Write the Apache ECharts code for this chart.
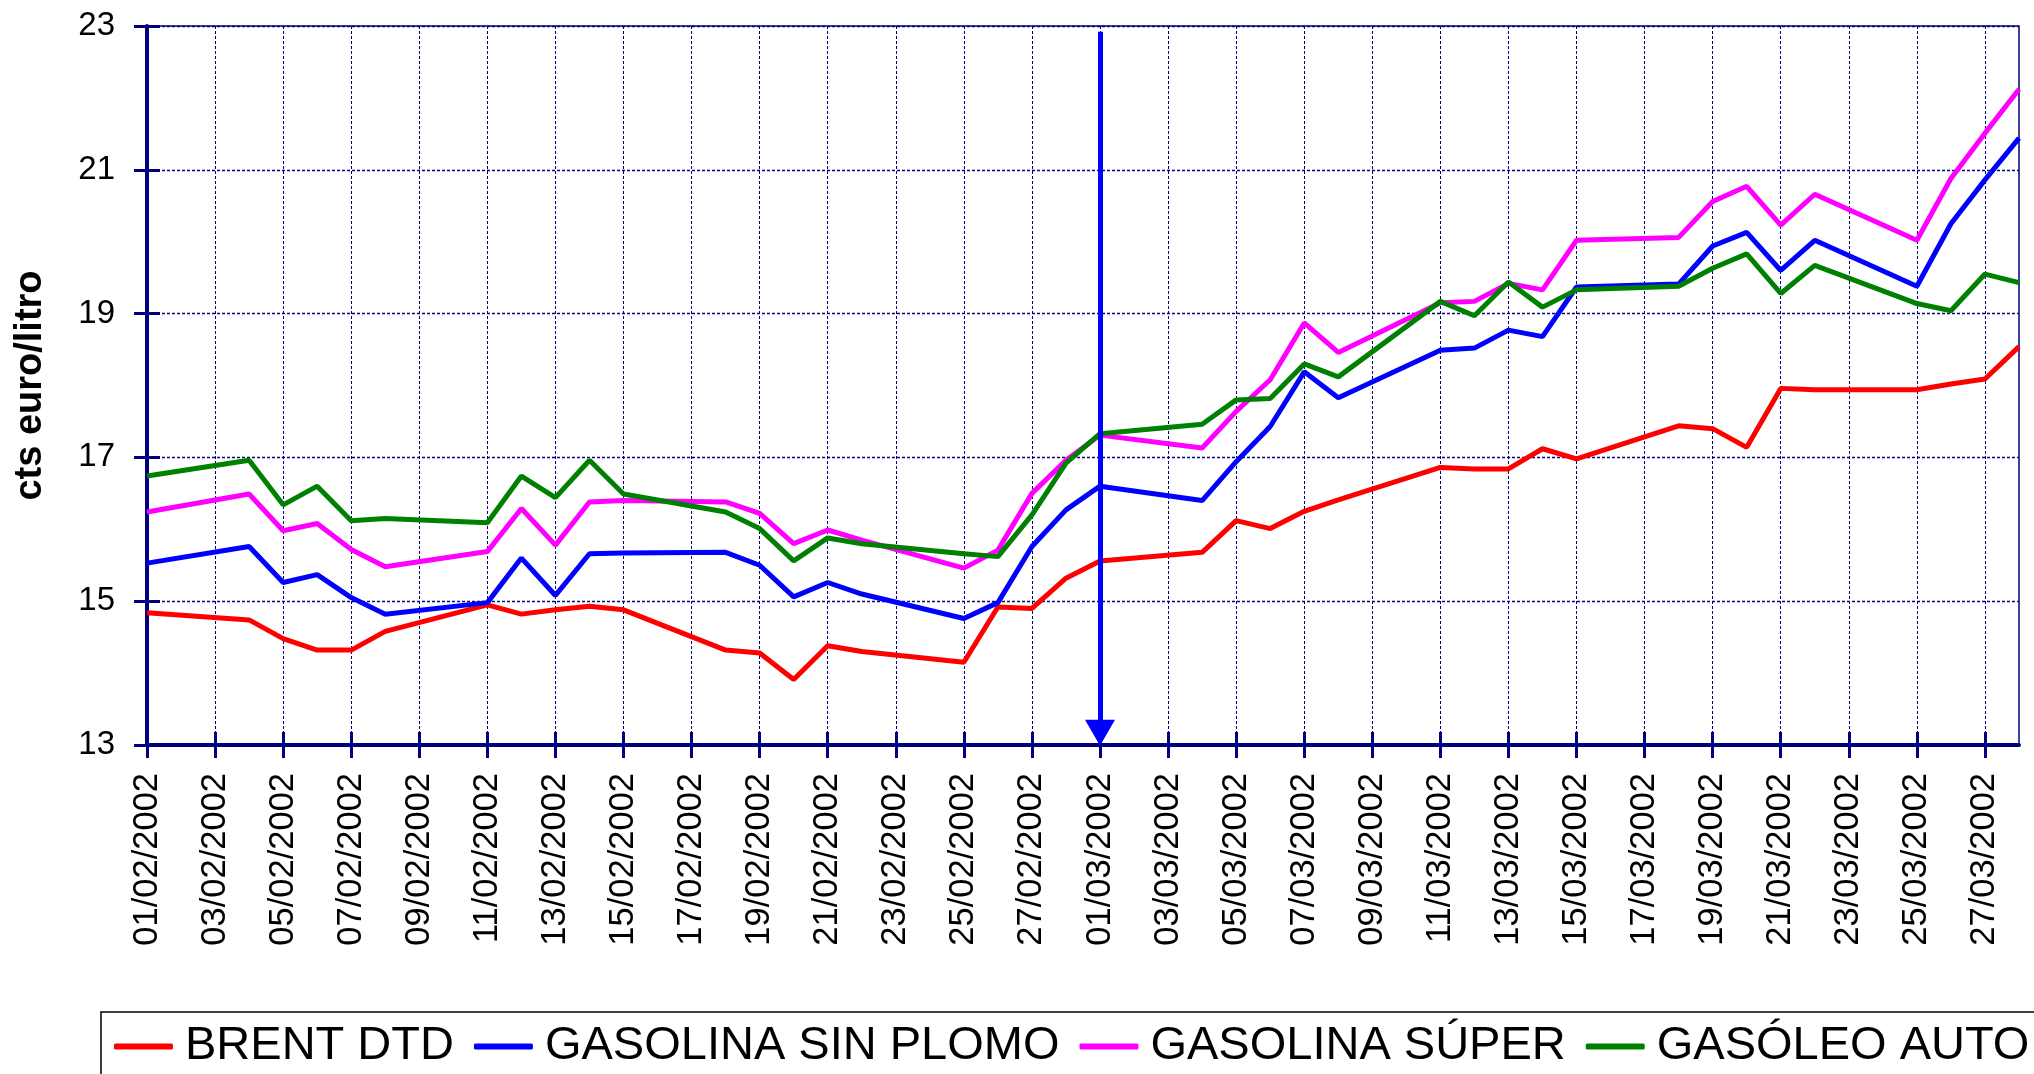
<!DOCTYPE html>
<html>
<head>
<meta charset="utf-8">
<title>Brent y carburantes</title>
<script src="https://cdn.jsdelivr.net/npm/echarts@6/dist/echarts.min.js"></script>
<style>
  html, body { margin: 0; padding: 0; background: #ffffff; }
  #chart { width: 2034px; height: 1074px; }
</style>
</head>
<body>
<div id="chart"></div>
<script>
// dias naturales del eje (01/02/2002 - 28/03/2002)
const dias = [
  '01/02/2002', '02/02/2002', '03/02/2002', '04/02/2002', '05/02/2002', '06/02/2002', '07/02/2002',
  '08/02/2002', '09/02/2002', '10/02/2002', '11/02/2002', '12/02/2002', '13/02/2002', '14/02/2002',
  '15/02/2002', '16/02/2002', '17/02/2002', '18/02/2002', '19/02/2002', '20/02/2002', '21/02/2002',
  '22/02/2002', '23/02/2002', '24/02/2002', '25/02/2002', '26/02/2002', '27/02/2002', '28/02/2002',
  '01/03/2002', '02/03/2002', '03/03/2002', '04/03/2002', '05/03/2002', '06/03/2002', '07/03/2002',
  '08/03/2002', '09/03/2002', '10/03/2002', '11/03/2002', '12/03/2002', '13/03/2002', '14/03/2002',
  '15/03/2002', '16/03/2002', '17/03/2002', '18/03/2002', '19/03/2002', '20/03/2002', '21/03/2002',
  '22/03/2002', '23/03/2002', '24/03/2002', '25/03/2002', '26/03/2002', '27/03/2002', '28/03/2002'
]

// cts euro/litro, null = fin de semana (sin cotizacion)
const brentDtd = [
  14.84, null, null, 14.74, 14.48, 14.32, 14.32, 14.58, null, null,
  14.95, 14.82, 14.88, 14.93, 14.88, null, null, 14.32, 14.28, 13.91,
  14.38, 14.30, null, null, 14.15, 14.92, 14.90, 15.32, 15.56, null,
  null, 15.68, 16.12, 16.01, 16.25, 16.41, null, null, 16.86, 16.84,
  16.84, 17.12, 16.98, null, null, 17.44, 17.40, 17.14, 17.96, 17.94,
  null, null, 17.94, 18.02, 18.09, 18.54
]
const sinPlomo = [
  15.53, null, null, 15.76, 15.26, 15.37, 15.05, 14.82, null, null,
  14.98, 15.60, 15.08, 15.66, 15.67, null, null, 15.68, 15.50, 15.06,
  15.26, 15.10, null, null, 14.76, 14.98, 15.76, 16.27, 16.60, null,
  null, 16.40, 16.94, 17.43, 18.19, 17.83, null, null, 18.49, 18.52,
  18.77, 18.68, 19.37, null, null, 19.41, 19.94, 20.13, 19.60, 20.02,
  null, null, 19.38, 20.25, 20.86, 21.44
]
const gasolinaSuper = [
  16.24, null, null, 16.49, 15.98, 16.08, 15.72, 15.48, null, null,
  15.69, 16.29, 15.78, 16.38, 16.40, null, null, 16.38, 16.22, 15.80,
  15.99, 15.85, null, null, 15.46, 15.71, 16.50, 16.96, 17.31, null,
  null, 17.13, 17.64, 18.08, 18.87, 18.46, null, null, 19.15, 19.17,
  19.42, 19.33, 20.02, null, null, 20.06, 20.56, 20.77, 20.23, 20.66,
  null, null, 20.02, 20.88, 21.51, 22.12
]
const gasoleoAuto = [
  16.74, null, null, 16.96, 16.34, 16.60, 16.12, 16.15, null, null,
  16.09, 16.74, 16.44, 16.96, 16.49, null, null, 16.24, 16.01, 15.56,
  15.88, 15.80, null, null, 15.66, 15.62, 16.20, 16.92, 17.33, null,
  null, 17.46, 17.80, 17.82, 18.30, 18.12, null, null, 19.17, 18.97,
  19.44, 19.09, 19.33, null, null, 19.38, 19.63, 19.83, 19.28, 19.67,
  null, null, 19.14, 19.04, 19.55, 19.43
]

const nombres = ['BRENT DTD', 'GASOLINA SIN PLOMO', 'GASOLINA SÚPER', 'GASÓLEO AUTO']
const colores = ['#ff0000', '#0000ff', '#ff00ff', '#008000']

// flecha vertical en el 01/03/2002
const fechaFlecha = '01/03/2002'
const flechaDesde = 22.92
const flechaHasta = 13.17

const navy = '#000080'
const fuente = '"Liberation Sans", Arial, sans-serif'

const chart = echarts.init(document.getElementById('chart'))

// serie de linea comun
const makeLine = (name, data, color) => ({
  name,
  type: 'line',
  data,
  connectNulls: true,
  showSymbol: false,
  symbol: 'none',
  color,
  lineStyle: { color, width: 5 },
  emphasis: { disabled: true }
})

const series = [
  makeLine(nombres[0], brentDtd, colores[0]),
  makeLine(nombres[1], sinPlomo, colores[1]),
  makeLine(nombres[2], gasolinaSuper, colores[2]),
  makeLine(nombres[3], gasoleoAuto, colores[3])
]

series[3].markLine = {
  silent: true,
  animation: false,
  symbol: ['none', 'triangle'],
  symbolSize: [30, 26],
  label: { show: false },
  lineStyle: { color: '#0000ff', width: 5, type: 'solid' },
  data: [[
    { coord: [fechaFlecha, flechaDesde] },
    { coord: [fechaFlecha, flechaHasta] }
  ]]
}

const option = {
  animation: false,
  backgroundColor: '#ffffff',
  textStyle: { fontFamily: fuente },
  grid: {
    left: 147,
    right: 15,
    top: 26,
    bottom: 329,
    show: true,
    borderColor: navy,
    borderWidth: 1.5
  },
  legend: {
    left: 101,
    top: 1012,
    width: 2400,
    orient: 'horizontal',
    selectedMode: false,
    data: nombres,
    icon: 'roundRect',
    itemWidth: 59,
    itemHeight: 6,
    itemGap: 20,
    padding: [11, 80, 20, 13],
    borderColor: '#000000',
    borderWidth: 1.5,
    textStyle: {
      fontFamily: fuente,
      fontSize: 47,
      lineHeight: 46,
      color: '#000000',
      padding: [0, 0, 0, 7]
    }
  },
  xAxis: [
    {
      type: 'category',
      data: dias,
      boundaryGap: false,
      position: 'bottom',
      axisLine: { show: true, onZero: false, lineStyle: { color: navy, width: 4 } },
      axisTick: { show: true, interval: 1, length: 13, lineStyle: { color: navy, width: 3 } },
      axisLabel: {
        interval: 1,
        rotate: 90,
        margin: 28,
        fontFamily: fuente,
        fontSize: 34.5,
        color: '#000000'
      },
      splitLine: {
        show: true,
        interval: 1,
        lineStyle: { color: navy, width: 1, type: [3, 2] }
      }
    },
    {
      // marcas hacia dentro (cruzan el eje)
      type: 'category',
      data: dias,
      boundaryGap: false,
      position: 'bottom',
      axisLine: { show: false },
      axisTick: { show: true, inside: true, interval: 1, length: 13, lineStyle: { color: navy, width: 3 } },
      axisLabel: { show: false },
      splitLine: { show: false }
    }
  ],
  yAxis: [
    {
      type: 'value',
      min: 13,
      max: 23,
      interval: 2,
      position: 'left',
      name: 'cts euro/litro',
      nameLocation: 'middle',
      nameRotate: 90,
      nameGap: 97,
      nameTextStyle: { fontFamily: fuente, fontSize: 38, fontWeight: 'bold', color: '#000000' },
      axisLine: { show: true, onZero: false, lineStyle: { color: navy, width: 4 } },
      axisTick: { show: true, length: 13, lineStyle: { color: navy, width: 3 } },
      axisLabel: { margin: 32, fontFamily: fuente, fontSize: 33, color: '#000000' },
      splitLine: { show: true, lineStyle: { color: navy, width: 1.3, type: [3, 2] } }
    },
    {
      type: 'value',
      min: 13,
      max: 23,
      interval: 2,
      position: 'left',
      axisLine: { show: false },
      axisTick: { show: true, inside: true, length: 13, lineStyle: { color: navy, width: 3 } },
      axisLabel: { show: false },
      splitLine: { show: false }
    }
  ],
  series
}

chart.setOption(option)
window.addEventListener('resize', () => chart.resize())
</script>
</body>
</html>
